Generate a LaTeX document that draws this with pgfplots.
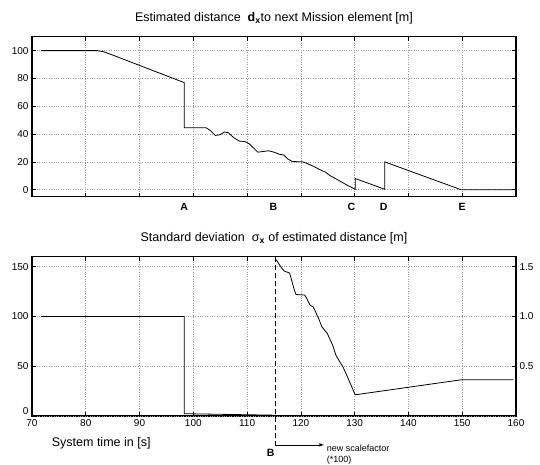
\documentclass[border=0pt]{standalone}
\usepackage{fontspec}
\setmainfont{Liberation Sans}
\usepackage{pgfplots}
\pgfplotsset{compat=1.18}
\begin{document}
\begin{tikzpicture}
\path[use as bounding box] (0pt,0pt) rectangle (540pt,465pt);
\pgfplotsset{
  every axis/.append style={
    scale only axis,
    width=484pt,
    /pgf/number format/assume math mode=true,
    tick label style={font=\fontsize{10}{11}\selectfont},
    axis line style={line width=1.1pt},
    major tick length=4pt,
    tick style={black, line width=0.6pt},
    grid=major,
    major grid style={dotted, gray!80, line width=0.6pt},
    clip=false,
  }
}
% ---------- top axis ----------
\begin{axis}[
  at={(32pt,268.3pt)}, anchor=south west,
  height=160pt,
  xmin=70, xmax=160, ymin=-5, ymax=110,
  xtick={70,80,...,160}, xticklabels={},
  ytick={0,20,...,100},
]
\addplot[black, line width=0.8pt] coordinates {
(71.7,100) (82,100) (83.3,99.2) (85.2,96.5) (98.3,77) (98.3,44.5) (102.4,44.5)
(103.2,42.5) (104.1,39) (104.9,39.5) (105.8,41.5) (106.5,41) (107.5,37.5)
(108.5,35) (109.6,34.6) (110.4,33) (111.2,30) (112,27) (113,27.5) (114,28)
(115,27) (116,25.5) (116.8,25) (117.6,22) (118.4,20.3) (120.4,20) (122,17.5)
(123.5,14.5) (124.6,12.5) (125.5,10) (126.9,7) (128.5,3.5) (130.1,0.3)
(130.1,8.1) (135.6,0.3) (135.6,20) (149.8,0) (160,0)
};
\node[font=\fontsize{12.5}{14}\selectfont] at ([yshift=18.5pt]rel axis cs:0.5,1)
  {Estimated distance \ {\bfseries d}\textsubscript{\bfseries x}to next Mission element [m]};
\foreach \lab/\xx in {A/98.3, B/114.9, C/129.4, D/135.4, E/150} {
  \edef\temp{\noexpand\node[font=\noexpand\fontsize{10.5}{11}\noexpand\selectfont\noexpand\bfseries] at (axis cs:\xx,-12.3) {\lab};}
  \temp
}
\end{axis}
% ---------- bottom axis ----------
\begin{axis}[
  at={(32pt,49pt)}, anchor=south west,
  height=159.3pt,
  xmin=70, xmax=160, ymin=0, ymax=160,
  xtick={70,80,...,160},
  ytick={50,100,150},
  extra y ticks={0},
  extra y tick style={yticklabel style={yshift=4.5pt}},
  ytick pos=left,
]
\addplot[black, line width=0.8pt] coordinates {
(71.7,100) (98.3,100) (98.3,2.3) (115.2,0.8)
};
\addplot[black, line width=0.8pt] coordinates {
(115.4,157) (116.3,149.6) (116.9,145.6) (117.9,143.6) (118.8,126.3) (119.1,122)
(120.7,121.5) (121.1,118) (121.7,111.3) (122.3,109.6) (123.3,98) (123.9,89.6)
(124.9,83) (125.9,71.3) (126.5,61.3) (127.2,54.6) (127.8,49.6) (128.5,41.3)
(130.1,21.3) (150,36.5) (159.5,36.5)
};
\node[font=\fontsize{12.5}{14}\selectfont] at ([yshift=18.4pt]rel axis cs:0.5,1)
  {Standard deviation \ σ\textsubscript{\bfseries x} of estimated distance [m]};
\draw[black, dash pattern=on 5pt off 3pt, line width=0.7pt] (axis cs:115.2,160) -- (axis cs:115.2,-29);
\draw[black, line width=0.6pt, -latex] (axis cs:115.2,-29) -- (axis cs:124.3,-29);
\node[anchor=west, font=\fontsize{9}{11}\selectfont, align=left, inner sep=0pt] at (axis cs:124.8,-38.8) {new scalefactor\\(*100)};
\node[font=\fontsize{10.5}{11}\selectfont\bfseries] at (axis cs:114.4,-37.5) {B};
\node[anchor=west, font=\fontsize{12.5}{14}\selectfont, inner sep=0pt] at (axis cs:73.66,-27.3) {System time in [s]};
\end{axis}
\begin{axis}[
  at={(32pt,49pt)}, anchor=south west,
  height=159.3pt,
  xmin=70, xmax=160, ymin=0, ymax=1.6,
  axis x line=none, axis y line*=right,
  grid=none,
  ytick={0.5,1,1.5},
  yticklabel style={/pgf/number format/fixed, /pgf/number format/fixed zerofill, /pgf/number format/precision=1},
]
\end{axis}
\end{tikzpicture}
\end{document}
